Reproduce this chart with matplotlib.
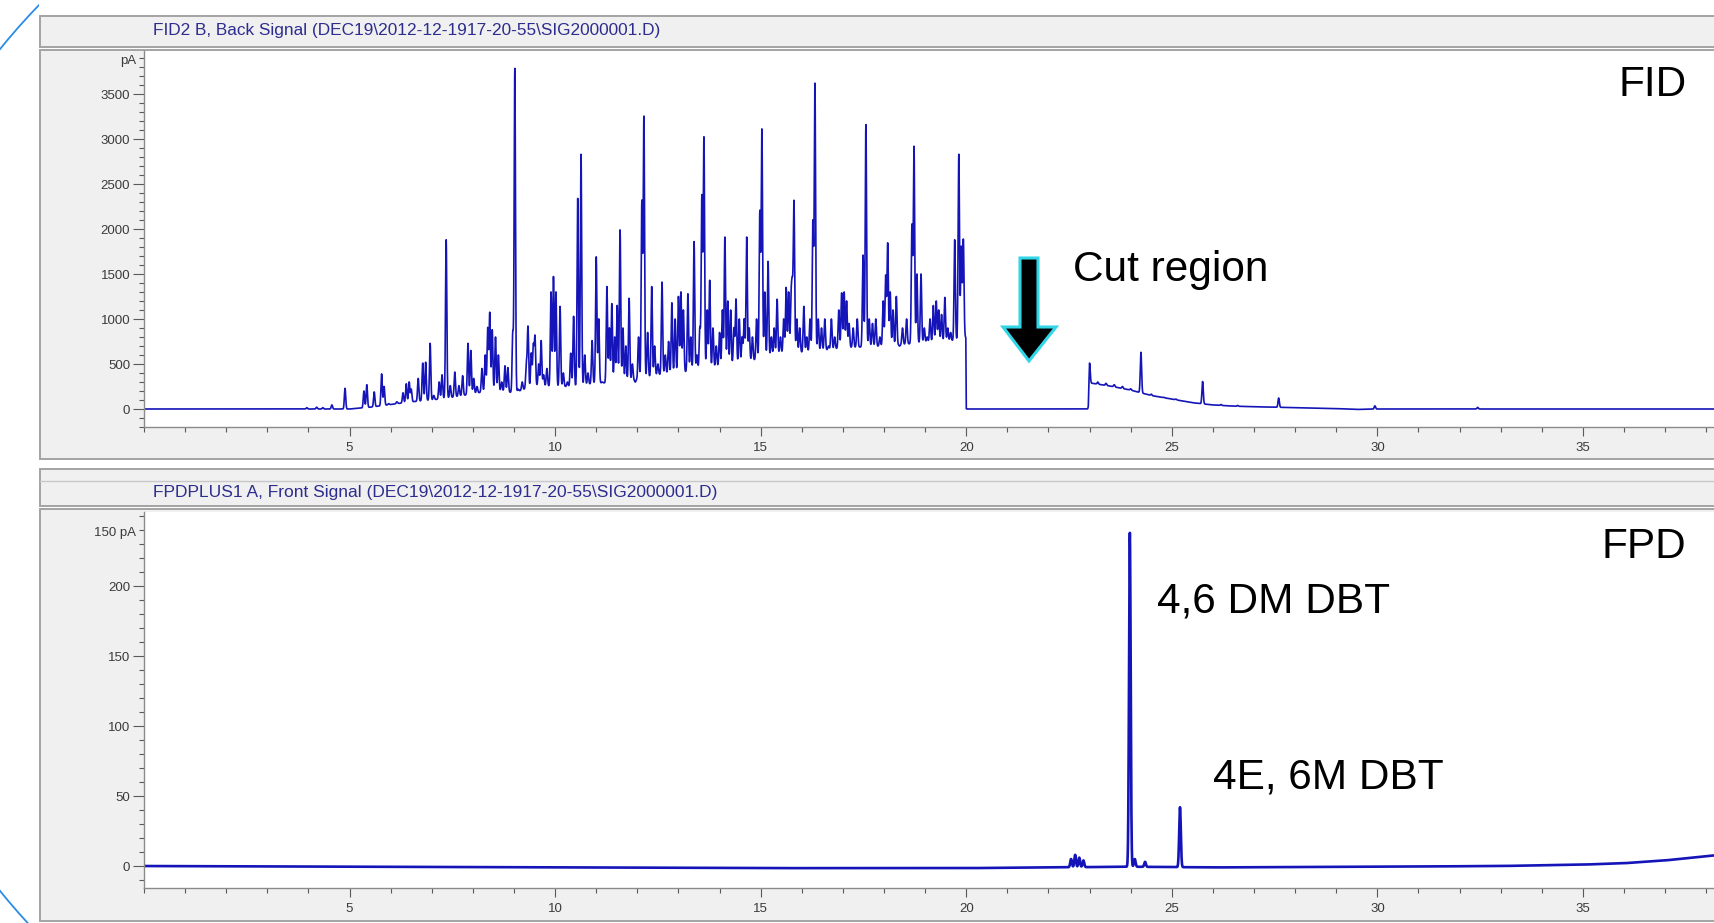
import numpy as np
import matplotlib
matplotlib.use("Agg")
import matplotlib.pyplot as plt
from matplotlib.patches import Rectangle, Polygon, Circle
from matplotlib.ticker import FixedLocator, MultipleLocator
import matplotlib.transforms as mtransforms

W, H = 1714, 923

# ---------------- data ----------------
fid_title = "FID2 B, Back Signal (DEC19\\2012-12-1917-20-55\\SIG2000001.D)"
fpd_title = "FPDPLUS1 A, Front Signal (DEC19\\2012-12-1917-20-55\\SIG2000001.D)"

x_major = [5, 10, 15, 20, 25, 30, 35]
fid_yticks = [0, 500, 1000, 1500, 2000, 2500, 3000, 3500]
fpd_yticks = [0, 50, 100, 150, 200]
fid_unit_label = "pA"
fpd_unit_label = "150 pA"

# FID baseline (valley envelope), time in min, signal in pA
fid_base_t = [0, 3.8, 5.0, 5.5, 6.0, 6.5, 7.0, 7.5, 8.0, 8.5, 9.0, 9.5, 10.0, 10.5,
              11.0, 11.5, 12.0, 12.5, 13.0, 13.5, 14.0, 14.5, 15.0, 15.5, 16.0, 16.5,
              17.0, 17.5, 18.0, 18.5, 19.0, 19.5, 19.99, 20.0, 22.97, 23.0, 23.5,
              24.0, 24.5, 25.0, 25.5, 26.0, 26.5, 27.0, 28.0, 29.0, 29.5, 30.0, 40.5]
fid_base_v = [0, 0, 0, 20, 50, 80, 100, 130, 170, 210, 180, 260, 250, 250,
              290, 290, 330, 380, 400, 440, 470, 510, 560, 620, 630, 650,
              680, 690, 700, 720, 740, 750, 780, 0, 0, 290, 255,
              210, 150, 110, 70, 45, 32, 25, 15, 5, -5, 0, 0]

# FID peaks: retention time (min) and apex height (pA)
fid_peak_rt = [
    3.96, 4.20, 4.35, 4.57, 4.89,
    5.35, 5.42, 5.60, 5.78, 5.84, 5.95, 6.15, 6.30, 6.38, 6.45, 6.50, 6.67, 6.78, 6.85, 6.96,
    7.05, 7.18, 7.25, 7.35, 7.45, 7.56, 7.66, 7.75, 7.88, 7.95,
    8.02, 8.10, 8.22, 8.30, 8.36, 8.41, 8.47, 8.55, 8.62, 8.70, 8.78, 8.85, 8.97,
    9.02, 9.10, 9.20, 9.30, 9.34, 9.42, 9.47, 9.51, 9.60, 9.66, 9.72, 9.80, 9.90, 9.96,
    10.02, 10.12, 10.20, 10.30, 10.38, 10.45, 10.55, 10.63, 10.72, 10.80, 10.90,
    11.00, 11.06, 11.15, 11.26, 11.32, 11.38, 11.45, 11.51, 11.58, 11.65, 11.72, 11.80, 11.88, 11.95,
    12.03, 12.11, 12.16, 12.25, 12.35, 12.42, 12.50, 12.60, 12.68, 12.76, 12.84, 12.92,
    13.00, 13.06, 13.12, 13.23, 13.30, 13.38, 13.45, 13.52, 13.57, 13.62, 13.70, 13.76, 13.84, 13.92,
    14.00, 14.07, 14.13, 14.20, 14.27, 14.35, 14.40, 14.48, 14.55, 14.60, 14.66, 14.72, 14.80, 14.90,
    14.98, 15.03, 15.10, 15.18, 15.26, 15.33, 15.40, 15.48, 15.56, 15.62, 15.68, 15.74, 15.77, 15.81,
    15.88, 15.95, 16.05, 16.12, 16.20, 16.27, 16.32, 16.40, 16.48, 16.56, 16.65, 16.72, 16.80, 16.90,
    16.97, 17.03, 17.09, 17.15, 17.25, 17.35, 17.49, 17.56, 17.64, 17.72, 17.80, 17.90, 17.98,
    18.04, 18.09, 18.15, 18.22, 18.30, 18.38, 18.45, 18.55, 18.68, 18.73, 18.80, 18.90, 18.98,
    19.05, 19.12, 19.20, 19.27, 19.33, 19.40, 19.48, 19.55, 19.62, 19.72, 19.82, 19.88, 19.93, 19.97,
    23.00, 23.20, 23.40, 23.60, 23.80, 24.00, 24.25, 24.50, 24.80, 25.10, 25.75, 26.20, 26.60,
    27.60, 29.94, 32.44]
fid_peak_top = [
    15, 20, 15, 45, 230,
    200, 270, 190, 390, 250, 60, 80, 180, 280, 300, 220, 340, 510, 520, 730,
    150, 300, 380, 1880, 260, 410, 260, 370, 730, 650,
    340, 250, 450, 600, 900, 1070, 880, 800, 600, 300, 480, 460, 840,
    3780, 220, 300, 500, 910, 620, 700, 800, 500, 760, 380, 450, 1300, 1470,
    1300, 1140, 400, 300, 620, 1030, 2340, 2830, 600, 400, 760,
    1690, 1000, 300, 1360, 900, 1170, 800, 1150, 1990, 900, 700, 1230, 500, 300,
    800, 2300, 3240, 850, 1360, 700, 500, 1410, 600, 750, 1180, 1000,
    1250, 1300, 1100, 1280, 800, 1860, 600, 900, 2360, 3010, 1100, 1430, 900, 700,
    850, 1100, 1910, 1200, 1100, 900, 1220, 1000, 800, 1000, 1910, 900, 800, 1000,
    2190, 3100, 1300, 1640, 800, 900, 1220, 800, 1000, 1350, 1300, 1200, 1300, 2290,
    1000, 900, 1140, 800, 1000, 2080, 3610, 1000, 900, 1000, 700, 1000, 800, 1100,
    1290, 1300, 1200, 950, 900, 1000, 1710, 3160, 1000, 950, 1000, 800, 1200,
    1480, 1840, 1300, 1100, 1250, 700, 900, 1000, 2040, 2910, 1500, 1500, 900,
    800, 1000, 1150, 1200, 1100, 1050, 1240, 900, 850, 1880, 2830, 1800, 1880, 800,
    510, 300, 285, 270, 250, 225, 630, 165, 130, 110, 305, 50, 40,
    122, 35, 18]

# FPD baseline and peaks
fpd_base_t = [0, 5, 10, 15, 20, 22, 24, 26, 30, 33, 35, 36, 37, 38, 39, 40.5]
fpd_base_v = [0, -0.5, -1, -1.5, -1.5, -1, -0.5, -1, -0.5, 0, 1, 2, 4, 7, 10, 14]
fpd_peak_rt = [22.55, 22.65, 22.75, 22.85, 23.98, 24.10, 24.35, 25.20]
fpd_peak_top = [5, 8, 6, 4, 238, 5, 3, 42]

annotations = [("FID", 1619, 85), ("Cut region", 1073, 270), ("FPD", 1602, 547),
               ("4,6 DM DBT", 1157, 601), ("4E, 6M DBT", 1213, 778)]

# ---------------- build traces ----------------
t = np.arange(0.0, 40.5, 0.002)

def build(base_t, base_v, rts, tops, sigma):
    y = np.interp(t, base_t, base_v).astype(float)
    for rt, top in zip(rts, tops):
        h = top - np.interp(rt, base_t, base_v)
        y += h * np.exp(-0.5 * ((t - rt) / sigma) ** 2)
    return y

fid = build(fid_base_t, fid_base_v, fid_peak_rt, fid_peak_top, 0.016)
fpd = build(fpd_base_t, fpd_base_v, fpd_peak_rt, fpd_peak_top, 0.02)

# ---------------- figure ----------------
fig = plt.figure(figsize=(W / 100, H / 100), dpi=100)
fig.patch.set_facecolor("white")

def fpos(x0, y0, x1, y1):
    return [x0 / W, 1 - y1 / H, (x1 - x0) / W, (y1 - y0) / H]

bg = fig.add_axes([0, 0, 1, 1], zorder=0)
bg.set_xlim(0, W)
bg.set_ylim(H, 0)
bg.axis("off")

circ = Circle((520, 470), 669, fill=False, ec="#2a8ce6", lw=1.3)
bg.add_patch(circ)
clip = Rectangle((0, 0), 39, H, transform=bg.transData, fc="none", ec="none")
bg.add_patch(clip)
circ.set_clip_path(clip)

panel_fc = "#f0f0f0"
panel_ec = "#a3a3a3"
for (x0, y0, w, h) in [(40, 16, 1800, 31), (40, 50, 1800, 409),
                       (40, 469, 1800, 37), (40, 509, 1800, 412)]:
    bg.add_patch(Rectangle((x0, y0), w, h, fc=panel_fc, ec=panel_ec, lw=1.4))
bg.plot([40, 1840], [481, 481], color="#c8c8c8", lw=1.0)

renderer = fig.canvas.get_renderer()
for txt, x, y, target in [(fid_title, 153, 31, 508), (fpd_title, 153, 493, 563)]:
    tt = bg.text(x, y, txt, fontsize=10, color="#2d2d8f", ha="left", va="center",
                 family="Liberation Sans")
    wpx = tt.get_window_extent(renderer=renderer).width
    tt.set_fontsize(10 * target / wpx)

tick_col = "#5a5a5a"
lab_col = "#3a3a3a"

def style_axis(ax, ylim, yticks, ymin_step, unit_label, unit_y):
    ax.set_facecolor("white")
    ax.set_xlim(0, 40.5)
    ax.set_ylim(*ylim)
    for s in ["top", "right"]:
        ax.spines[s].set_visible(False)
    for s in ["left", "bottom"]:
        ax.spines[s].set_color("#8a8a8a")
        ax.spines[s].set_linewidth(1.0)
    ax.xaxis.set_major_locator(FixedLocator(x_major))
    ax.xaxis.set_minor_locator(MultipleLocator(1))
    ax.yaxis.set_major_locator(FixedLocator(yticks))
    ax.yaxis.set_minor_locator(MultipleLocator(ymin_step))
    ax.tick_params(axis="x", which="major", length=6.5, width=0.8, color=tick_col,
                   pad=4, labelsize=9.5, labelcolor=lab_col)
    ax.tick_params(axis="x", which="minor", length=3.6, width=0.8, color=tick_col)
    ax.tick_params(axis="y", which="major", length=8, width=0.8, color=tick_col,
                   pad=2, labelsize=9.5, labelcolor=lab_col)
    ax.tick_params(axis="y", which="minor", length=3.6, width=0.8, color=tick_col)
    for lab in ax.get_xticklabels() + ax.get_yticklabels():
        lab.set_family("Liberation Sans")
    tr = mtransforms.offset_copy(ax.get_yaxis_transform(), fig=fig, x=-8, y=0, units="dots")
    ax.text(0, unit_y, unit_label, transform=tr, ha="right", va="center",
            fontsize=9.5, color=lab_col, family="Liberation Sans")

ax1 = fig.add_axes(fpos(144, 51, 1809, 427), zorder=2)
style_axis(ax1, (-200, 3978), fid_yticks, 100, fid_unit_label, 3870)
ax1.plot(t, fid, color="#1414b8", lw=1.2)

ax2 = fig.add_axes(fpos(144, 512, 1809, 888), zorder=2)
style_axis(ax2, (-15.7, 252.9), fpd_yticks, 10, fpd_unit_label, 238)
ax2.plot(t, fpd, color="#1414b8", lw=1.9)

ov = fig.add_axes([0, 0, 1, 1], zorder=5)
ov.set_xlim(0, W)
ov.set_ylim(H, 0)
ov.axis("off")
ov.patch.set_alpha(0)

arrow = [(1020, 258), (1038, 258), (1038, 327), (1056, 327), (1029, 361),
         (1003, 327), (1020, 327)]
ov.add_patch(Polygon(arrow, closed=True, fc="black", ec="#33d6e6", lw=2.2,
                     joinstyle="miter"))

for txt, x, y in annotations:
    ov.text(x, y, txt, fontsize=30.5, color="black", ha="left", va="center",
            family="Liberation Sans")

fig.savefig("out.png", dpi=100)
